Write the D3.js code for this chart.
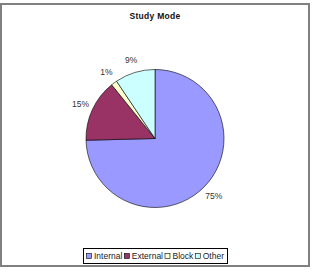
<!DOCTYPE html>
<html>
<head>
<meta charset="utf-8">
<script src="https://cdn.jsdelivr.net/npm/d3@7"></script>
<style>
  body { margin: 0; background: #fff; }
  svg { display: block; font-family: "Liberation Sans", Arial, sans-serif; }
</style>
</head>
<body>
<svg id="chart" width="313" height="270"></svg>
<script>
// chart data
var categories = ["Internal", "External", "Block", "Other"];
var values = [74.6, 14.6, 1.4, 9.4];
var labels = ["75%", "15%", "1%", "9%"];
var colors = ["#9999ff", "#993366", "#ffffcc", "#ccffff"];

var svg = d3.select("#chart");
var cx = 155, cy = 138.5, r = 69;

// outer frame
svg.append("rect")
  .attr("x", 1).attr("y", 4)
  .attr("width", 308).attr("height", 262)
  .attr("fill", "#fff")
  .attr("stroke", "#808080")
  .attr("stroke-width", 2);

// title
svg.append("text")
  .attr("x", cx).attr("y", 19)
  .attr("text-anchor", "middle")
  .attr("font-size", "8.5px")
  .attr("font-weight", "bold")
  .attr("letter-spacing", "0.3px")
  .attr("fill", "#111")
  .text("Study Mode");

var pie = d3.pie().sort(null).value(function(d) { return d; });
var arcs = pie(values);
var arc = d3.arc().innerRadius(0).outerRadius(r);
var labelArc = d3.arc().innerRadius(r + 13).outerRadius(r + 13);

var g = svg.append("g").attr("transform", "translate(" + cx + "," + cy + ")");

g.selectAll("path.slice")
  .data(arcs)
  .enter().append("path")
  .attr("class", "slice")
  .attr("d", arc)
  .attr("fill", function(d, i) { return colors[i]; })
  .attr("stroke", "#000")
  .attr("stroke-width", 0.6);

g.selectAll("text.lbl")
  .data(arcs)
  .enter().append("text")
  .attr("class", "lbl")
  .attr("transform", function(d) { return "translate(" + labelArc.centroid(d) + ")"; })
  .attr("dy", "0.35em")
  .attr("text-anchor", "middle")
  .attr("font-size", "8.5px")
  .attr("fill", "#333")
  .text(function(d, i) { return labels[i]; });

// legend
var legend = svg.append("g").attr("transform", "translate(83,248)");
legend.append("rect")
  .attr("x", 0.5).attr("y", 0.5)
  .attr("width", 144).attr("height", 15)
  .attr("fill", "#fff")
  .attr("stroke", "#000")
  .attr("stroke-width", 1);

// spread items evenly across the box
var xpos = 3;
var gap = 3;
var texts = [];
var items = [];
categories.forEach(function(c, i) {
  var it = legend.append("g");
  it.append("rect")
    .attr("x", 0.5).attr("y", 5.5)
    .attr("width", 5).attr("height", 5)
    .attr("fill", colors[i])
    .attr("stroke", "#000")
    .attr("stroke-width", 0.6);
  var t = it.append("text")
    .attr("x", 8).attr("y", 11)
    .attr("font-size", "8.5px")
    .attr("fill", "#222")
    .text(c);
  items.push(it);
  texts.push(t.node().getComputedTextLength());
});
var total = d3.sum(texts) + 8 * categories.length;
gap = (144 - 6 - total) / (categories.length - 1);
items.forEach(function(it, i) {
  it.attr("transform", "translate(" + xpos + ",0)");
  xpos += 8 + texts[i] + gap;
});
</script>
</body>
</html>
